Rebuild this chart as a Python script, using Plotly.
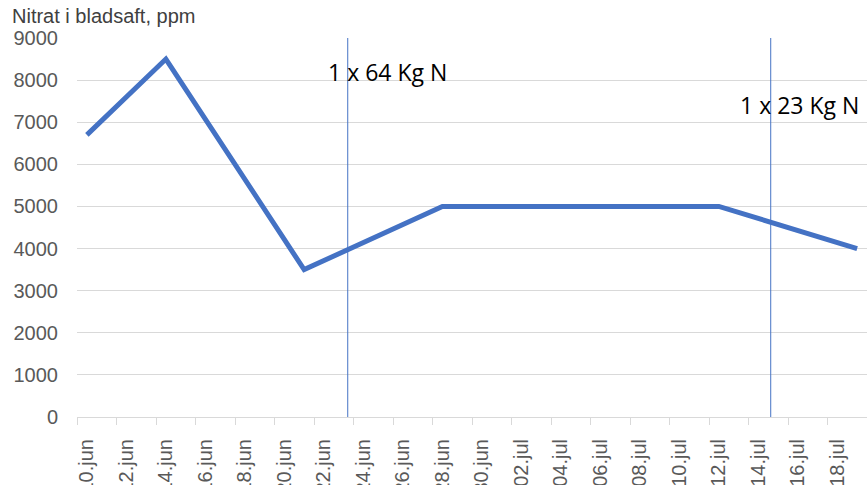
import plotly.graph_objects as go
from datetime import datetime, timedelta

# Nitrate in leaf sap, ppm
sample_dates = ["2023-06-10", "2023-06-14", "2023-06-21", "2023-06-28", "2023-07-12", "2023-07-19"]
nitrat_ppm = [6700, 8500, 3500, 5000, 5000, 4000]

# Fertilizer applications
gjodsling_dates = ["2023-06-23 05:00", "2023-07-14 15:00"]
gjodsling_labels = ["1 x 64 Kg N", "1 x 23 Kg N"]
gjodsling_label_pos = [("2023-06-25 05:00", 8200), ("2023-07-16 02:00", 7420)]

# Axis tick labels (every second day)
tick_dates = ["2023-06-10", "2023-06-12", "2023-06-14", "2023-06-16", "2023-06-18",
              "2023-06-20", "2023-06-22", "2023-06-24", "2023-06-26", "2023-06-28",
              "2023-06-30", "2023-07-02", "2023-07-04", "2023-07-06", "2023-07-08",
              "2023-07-10", "2023-07-12", "2023-07-14", "2023-07-16", "2023-07-18"]
tick_labels = ["10.jun", "12.jun", "14.jun", "16.jun", "18.jun", "20.jun", "22.jun",
               "24.jun", "26.jun", "28.jun", "30.jun", "02.jul", "04.jul", "06.jul",
               "08.jul", "10.jul", "12.jul", "14.jul", "16.jul", "18.jul"]
y_ticks = [0, 1000, 2000, 3000, 4000, 5000, 6000, 7000, 8000, 9000]

BLUE = "#4472C4"
GRID = "#D9D9D9"
TEXT = "#595959"

# Each day occupies one slot; tick marks sit on slot boundaries
half_day = timedelta(hours=12)
first = datetime.fromisoformat(tick_dates[0])
last = datetime.fromisoformat("2023-07-19")
slot_edges = [(datetime.fromisoformat(d) - half_day).isoformat() for d in tick_dates]
slot_edges.append((last + half_day).isoformat())

fig = go.Figure()

fig.add_trace(go.Scatter(
    x=sample_dates, y=nitrat_ppm, mode="lines",
    line=dict(color=BLUE, width=5), hoverinfo="x+y", showlegend=False,
))

for d in gjodsling_dates:
    fig.add_trace(go.Scatter(
        x=[d, d], y=[0, 9080], mode="lines",
        line=dict(color=BLUE, width=1), hoverinfo="skip", showlegend=False,
        cliponaxis=False,
    ))

for text, (xp, yp) in zip(gjodsling_labels, gjodsling_label_pos):
    fig.add_annotation(
        x=xp, y=yp, text=text, showarrow=False, xanchor="center", yanchor="middle",
        font=dict(family="Open Sans", size=23, color="#000000"),
    )

fig.add_annotation(
    xref="paper", yref="paper", x=-0.0848, y=1.058, text="Nitrat i bladsaft, ppm",
    showarrow=False, xanchor="left", yanchor="middle",
    font=dict(family="Liberation Sans", size=20, color="#404040"),
)

fig.update_layout(
    width=867, height=485,
    margin=dict(l=77, r=0, t=38, b=68),
    paper_bgcolor="white", plot_bgcolor="white",
    font=dict(family="Liberation Sans", size=20, color=TEXT),
    showlegend=False,
)

fig.update_xaxes(
    type="date", automargin=False,
    range=[(first - half_day).isoformat(), (last + half_day).isoformat()],
    tickmode="array", tickvals=tick_dates, ticktext=tick_labels,
    tickangle=-90, ticks="", ticklabelstandoff=13,
    showgrid=False, showline=True, linecolor=GRID, linewidth=1,
    zeroline=False,
    minor=dict(tickmode="array", tickvals=slot_edges, ticks="outside",
               ticklen=7, tickcolor=GRID, tickwidth=1, showgrid=False),
    tickfont=dict(size=20, color=TEXT),
)

fig.update_yaxes(
    range=[0, 9000], tickmode="array", tickvals=y_ticks, automargin=False,
    showgrid=True, gridcolor=GRID, gridwidth=1, zeroline=False,
    ticks="", ticklabelstandoff=18, showline=False,
    tickfont=dict(size=20, color=TEXT),
)

fig.write_html("out.html")
